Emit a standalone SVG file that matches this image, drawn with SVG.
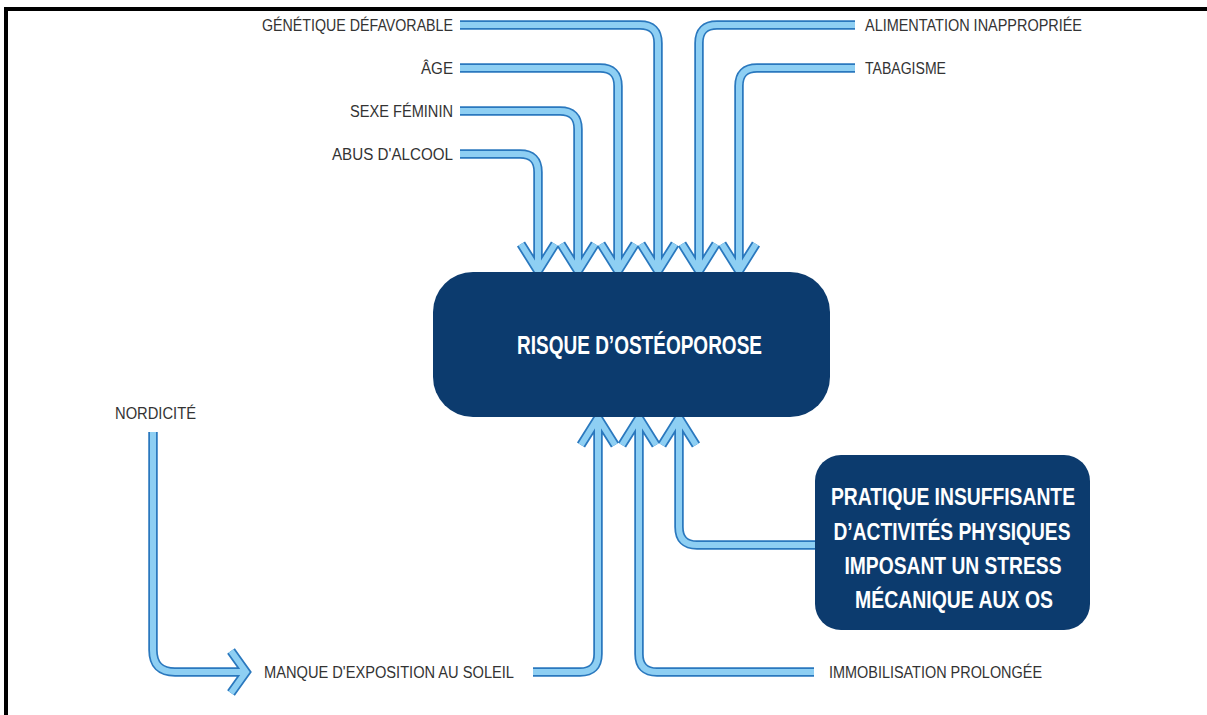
<svg xmlns="http://www.w3.org/2000/svg" width="1207" height="715" viewBox="0 0 1207 715">
<style>
.o{fill:none;stroke:#2a78be;stroke-width:9.5;stroke-linejoin:miter;stroke-miterlimit:10}
.i{fill:none;stroke:#8ecff3;stroke-width:6;stroke-linejoin:miter;stroke-miterlimit:10}
.lbl{font-family:"Liberation Sans",Arial,sans-serif;font-size:16px;fill:#333333}
.box{fill:#0c3b6e}
.bt{font-family:"Liberation Sans",Arial,sans-serif;font-weight:bold;fill:#ffffff}
</style>
<defs>
<path id="a1" d="M460,154 H520 Q538,154 538,172 V271 M521,244 L538,271 L555,244"/>
<path id="a2" d="M460,111 H560 Q578,111 578,129 V271 M561,244 L578,271 L595,244"/>
<path id="a3" d="M460,68 H600 Q618,68 618,86 V271 M601,244 L618,271 L635,244"/>
<path id="a4" d="M460,25 H640 Q658,25 658,43 V271 M641,244 L658,271 L675,244"/>
<path id="a5" d="M855,25 H717 Q699,25 699,43 V271 M682,244 L699,271 L716,244"/>
<path id="a6" d="M855,68 H757 Q739,68 739,86 V271 M722,244 L739,271 L756,244"/>
<path id="a7" d="M533,672 H580 Q598,672 598,654 V418 M581,445 L598,418 L615,445"/>
<path id="a8" d="M814,672 H657 Q639,672 639,654 V418 M622,445 L639,418 L656,445"/>
<path id="a9" d="M816,545 H697 Q679,545 679,527 V418 M662,445 L679,418 L696,445"/>
<path id="a10" d="M153,432 V650 Q153,672 175,672 H245 M231,651 L246,672 L231,693"/>
</defs>
<rect x="0" y="0" width="1207" height="715" fill="#ffffff"/>
<rect x="4" y="7" width="1203" height="4" fill="#000000"/>
<rect x="4" y="7" width="4" height="708" fill="#000000"/>
<g id="connectors">
<use href="#a1" class="o"/><use href="#a2" class="o"/><use href="#a3" class="o"/><use href="#a4" class="o"/><use href="#a5" class="o"/>
<use href="#a6" class="o"/><use href="#a7" class="o"/><use href="#a8" class="o"/><use href="#a9" class="o"/><use href="#a10" class="o"/>
<use href="#a1" class="i"/><use href="#a2" class="i"/><use href="#a3" class="i"/><use href="#a4" class="i"/><use href="#a5" class="i"/>
<use href="#a6" class="i"/><use href="#a7" class="i"/><use href="#a8" class="i"/><use href="#a9" class="i"/><use href="#a10" class="i"/>
</g>
<g id="n-risque">
<rect class="box" x="433" y="272" width="397" height="145" rx="40"/>
<text class="bt" x="517" y="354" font-size="25" textLength="245" lengthAdjust="spacingAndGlyphs">RISQUE D’OSTÉOPOROSE</text>
</g>
<g id="n-pratique">
<rect class="box" x="815" y="455" width="275" height="175" rx="26"/>
<text class="bt" x="953" y="505" font-size="23" text-anchor="middle" textLength="244" lengthAdjust="spacingAndGlyphs">PRATIQUE INSUFFISANTE</text>
<text class="bt" x="952" y="540" font-size="23" text-anchor="middle" textLength="237" lengthAdjust="spacingAndGlyphs">D’ACTIVITÉS PHYSIQUES</text>
<text class="bt" x="953" y="574" font-size="23" text-anchor="middle" textLength="217" lengthAdjust="spacingAndGlyphs">IMPOSANT UN STRESS</text>
<text class="bt" x="954" y="608" font-size="23" text-anchor="middle" textLength="198" lengthAdjust="spacingAndGlyphs">MÉCANIQUE AUX OS</text>
</g>
<g id="n-genetique"><text class="lbl" x="262" y="31" textLength="191" lengthAdjust="spacingAndGlyphs">GÉNÉTIQUE DÉFAVORABLE</text></g>
<g id="n-age"><text class="lbl" x="421" y="74" textLength="32" lengthAdjust="spacingAndGlyphs">ÂGE</text></g>
<g id="n-sexe"><text class="lbl" x="350" y="117" textLength="103" lengthAdjust="spacingAndGlyphs">SEXE FÉMININ</text></g>
<g id="n-alcool"><text class="lbl" x="332" y="160" textLength="121" lengthAdjust="spacingAndGlyphs">ABUS D'ALCOOL</text></g>
<g id="n-alimentation"><text class="lbl" x="865" y="31" textLength="217" lengthAdjust="spacingAndGlyphs">ALIMENTATION INAPPROPRIÉE</text></g>
<g id="n-tabagisme"><text class="lbl" x="865" y="74" textLength="81" lengthAdjust="spacingAndGlyphs">TABAGISME</text></g>
<g id="n-nordicite"><text class="lbl" x="115" y="419" textLength="81" lengthAdjust="spacingAndGlyphs">NORDICITÉ</text></g>
<g id="n-soleil"><text class="lbl" x="264" y="678" textLength="250" lengthAdjust="spacingAndGlyphs">MANQUE D'EXPOSITION AU SOLEIL</text></g>
<g id="n-immobilisation"><text class="lbl" x="829" y="678" textLength="213" lengthAdjust="spacingAndGlyphs">IMMOBILISATION PROLONGÉE</text></g>
</svg>
